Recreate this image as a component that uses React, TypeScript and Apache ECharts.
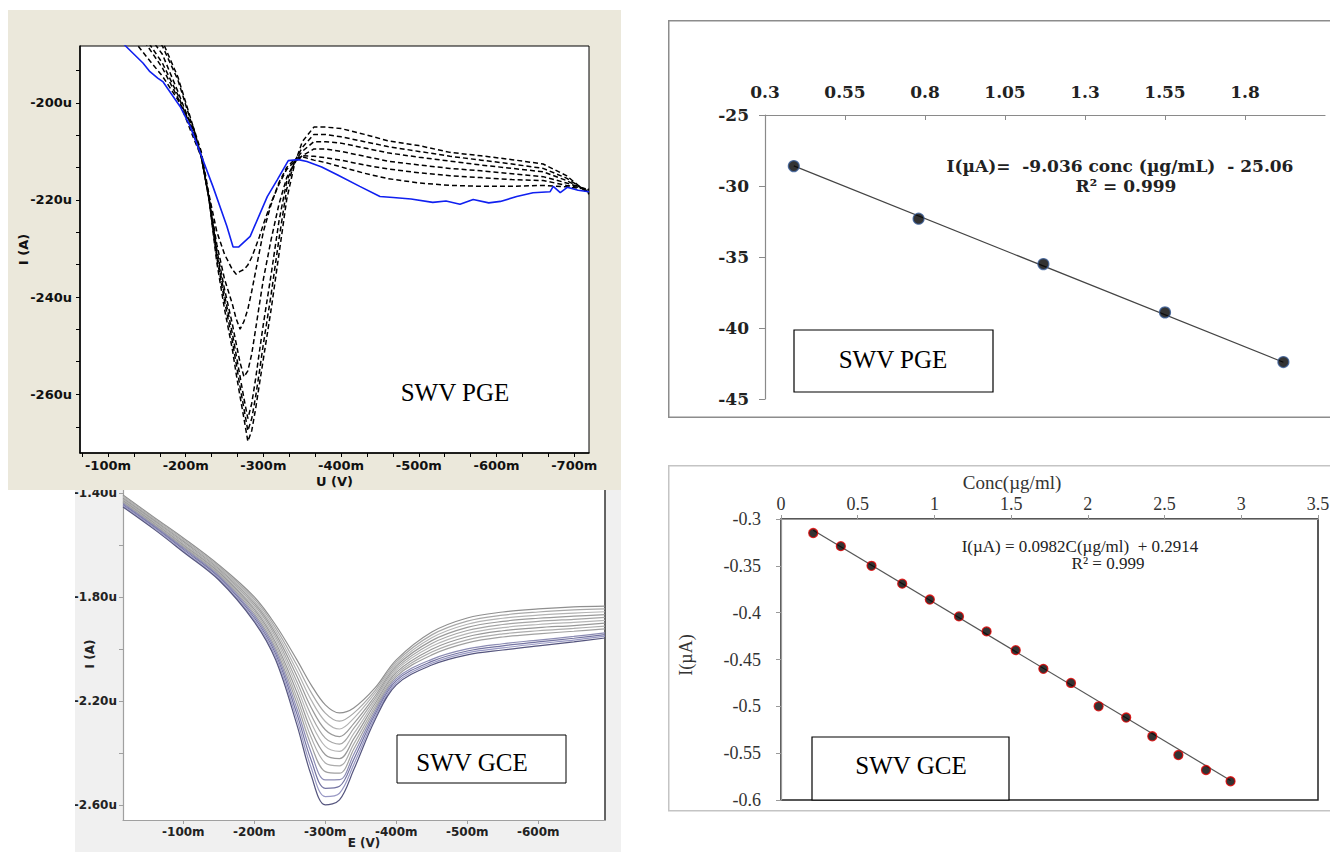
import React, { useEffect, useRef } from "react";
import * as echarts from "echarts";

// ================= Panel A : SWV at PGE (voltammograms) =================
// potentials in mV, currents in µA
const pgePotentials = [-64, -100, -130, -150, -170, -190, -210, -220, -230, -240, -250, -260, -265, -270, -275, -280, -285, -290, -295, -300, -310, -320, -330, -340, -350, -365, -380, -400, -430, -460, -500, -540, -580, -620, -660, -690, -719];
const pgeCurve1 = [-174.8, -180.9, -186.5, -190.6, -194.5, -199.4, -205.1, -210.0, -218.9, -226.5, -231.2, -234.3, -235.3, -234.7, -234.3, -233.4, -231.8, -229.7, -227.5, -225.0, -220.5, -216.8, -213.7, -212.1, -211.1, -211.8, -212.3, -213.2, -214.5, -215.6, -216.5, -217.0, -217.2, -217.2, -217.0, -217.3, -217.8];
const pgeCurve2 = [-172.7, -178.9, -185.0, -188.1, -192.8, -199.0, -207.2, -211.1, -219.3, -229.1, -236.3, -241.4, -244.5, -246.6, -245.0, -242.5, -238.8, -234.7, -230.6, -226.5, -220.9, -216.4, -213.3, -211.7, -210.9, -211.0, -211.3, -211.8, -212.8, -213.6, -214.4, -215.0, -215.4, -215.8, -216.0, -217.0, -217.8];
const pgeCurve3 = [-169.6, -176.8, -183.0, -187.1, -191.8, -198.4, -206.4, -211.1, -219.5, -230.2, -238.4, -245.5, -249.6, -253.5, -256.4, -255.2, -251.7, -246.6, -241.4, -236.3, -228.1, -220.9, -215.4, -212.3, -210.9, -209.5, -209.5, -210.0, -211.0, -212.0, -212.8, -213.5, -214.0, -214.6, -215.2, -216.5, -218.0];
const pgeCurve4 = [-166.6, -173.7, -180.5, -185.6, -190.0, -197.7, -205.9, -211.1, -219.7, -231.0, -239.6, -247.4, -251.9, -256.4, -260.9, -265.0, -261.9, -256.8, -251.1, -245.5, -235.3, -224.4, -216.2, -212.1, -210.0, -208.0, -208.0, -208.3, -209.3, -210.3, -211.2, -212.0, -212.8, -213.5, -214.2, -216.0, -218.3];
const pgeCurve5 = [-163.5, -171.1, -178.5, -184.6, -188.3, -195.3, -205.5, -210.9, -219.9, -231.8, -240.8, -249.0, -253.7, -258.5, -263.0, -267.5, -265.0, -260.5, -255.2, -249.6, -239.4, -228.1, -217.8, -212.1, -209.2, -206.5, -206.5, -207.0, -208.0, -209.0, -210.0, -211.0, -211.8, -212.6, -213.5, -215.5, -218.5];
const pgeCurve6 = [-160.4, -168.6, -176.4, -183.4, -187.3, -194.7, -205.1, -210.9, -219.9, -232.8, -242.5, -250.7, -255.8, -260.5, -265.0, -269.7, -267.5, -263.0, -257.8, -252.7, -242.5, -231.2, -219.9, -212.7, -208.0, -205.0, -205.0, -205.3, -206.5, -207.8, -208.8, -210.2, -210.9, -211.7, -212.6, -215.0, -218.8];
const pgeBlankPotentials = [-100, -124, -145, -154, -164, -171, -193, -206, -218, -235, -253, -261, -268, -283, -305, -318, -332, -345, -356, -375, -395, -424, -450, -467, -490, -518, -535, -553, -570, -590, -605, -626, -647, -669, -673, -682, -691, -705, -719];
const pgeBlankCurrents = [-184.5, -188.5, -191.8, -193.6, -194.9, -195.7, -200.8, -204.9, -210.0, -217.2, -225.4, -229.7, -229.7, -227.5, -219.3, -215.8, -211.9, -211.7, -212.1, -213.2, -214.8, -217.2, -219.3, -219.5, -219.8, -220.5, -220.2, -220.9, -219.9, -220.6, -220.3, -219.3, -218.5, -218.3, -217.2, -218.5, -217.4, -218.0, -218.3];
const pgeXLabels = [-100, -200, -300, -400, -500, -600, -700];
const pgeXTicks = [-66.7, -100, -133.3, -166.7, -200, -233.3, -266.7, -300, -333.3, -366.7, -400, -433.3, -466.7, -500, -533.3, -566.7, -600, -633.3, -666.7, -700];
const pgeYLabels = [-200, -220, -240, -260];
const pgeYTicks = [-193.3, -200, -206.7, -213.3, -220, -226.7, -233.3, -240, -246.7, -253.3, -260, -266.7];

// ================= Panel B : PGE calibration =================
const pgeConc = [0.39, 0.78, 1.17, 1.55, 1.92];
const pgePeakCurrent = [-28.6, -32.3, -35.5, -38.9, -42.4];
const pgeSlope = -9.036;
const pgeIntercept = -25.06;
const pgeConcLabels = [0.3, 0.55, 0.8, 1.05, 1.3, 1.55, 1.8];

// ================= Panel C : SWV at GCE (voltammograms) =================
const gcePotentials = [-15, -60, -100, -150, -200, -230, -260, -280, -300, -320, -340, -370, -400, -450, -500, -550, -600, -650, -694];
// one row per potential, 13 curves per row (µA)
const gceCurrentsByPotential = [
  [-1.408, -1.412, -1.416, -1.420, -1.424, -1.427, -1.430, -1.434, -1.437, -1.441, -1.445, -1.449, -1.454],
  [-1.496, -1.500, -1.504, -1.508, -1.512, -1.515, -1.518, -1.522, -1.525, -1.529, -1.533, -1.537, -1.542],
  [-1.573, -1.578, -1.583, -1.587, -1.592, -1.596, -1.600, -1.604, -1.608, -1.612, -1.617, -1.622, -1.627],
  [-1.677, -1.682, -1.687, -1.692, -1.697, -1.701, -1.705, -1.710, -1.714, -1.719, -1.724, -1.730, -1.735],
  [-1.800, -1.808, -1.816, -1.824, -1.832, -1.840, -1.848, -1.856, -1.864, -1.872, -1.880, -1.888, -1.896],
  [-1.908, -1.919, -1.930, -1.941, -1.952, -1.963, -1.975, -1.986, -1.997, -2.008, -2.019, -2.030, -2.042],
  [-2.042, -2.063, -2.084, -2.105, -2.126, -2.146, -2.167, -2.188, -2.209, -2.230, -2.250, -2.271, -2.292],
  [-2.138, -2.167, -2.196, -2.225, -2.254, -2.283, -2.312, -2.340, -2.369, -2.398, -2.427, -2.456, -2.485],
  [-2.215, -2.247, -2.279, -2.311, -2.343, -2.375, -2.407, -2.439, -2.472, -2.504, -2.536, -2.568, -2.600],
  [-2.246, -2.278, -2.308, -2.337, -2.366, -2.394, -2.422, -2.450, -2.478, -2.503, -2.528, -2.555, -2.581],
  [-2.227, -2.247, -2.267, -2.287, -2.306, -2.326, -2.346, -2.366, -2.386, -2.406, -2.425, -2.445, -2.465],
  [-2.150, -2.160, -2.170, -2.181, -2.191, -2.201, -2.211, -2.222, -2.232, -2.242, -2.252, -2.263, -2.273],
  [-2.042, -2.050, -2.058, -2.066, -2.074, -2.082, -2.090, -2.098, -2.106, -2.114, -2.122, -2.130, -2.138],
  [-1.935, -1.946, -1.957, -1.968, -1.979, -1.990, -2.001, -2.012, -2.023, -2.040, -2.048, -2.055, -2.062],
  [-1.881, -1.893, -1.905, -1.917, -1.929, -1.941, -1.953, -1.965, -1.977, -2.000, -2.008, -2.015, -2.023],
  [-1.858, -1.870, -1.882, -1.894, -1.906, -1.918, -1.930, -1.942, -1.954, -1.980, -1.988, -1.996, -2.004],
  [-1.846, -1.858, -1.870, -1.882, -1.894, -1.906, -1.918, -1.930, -1.942, -1.966, -1.973, -1.980, -1.988],
  [-1.838, -1.850, -1.862, -1.874, -1.886, -1.898, -1.910, -1.921, -1.932, -1.952, -1.959, -1.966, -1.973],
  [-1.835, -1.846, -1.857, -1.868, -1.879, -1.890, -1.901, -1.912, -1.923, -1.938, -1.945, -1.951, -1.958],
];
const gceCurveColors = ["#8f8f8f", "#a8a8a8", "#b3b3b3", "#9a9a9a", "#a5a5a5", "#b6b6b6", "#989898", "#acacac", "#a0a0a0", "#8c8cb4", "#7474a2", "#9898c4", "#55557e"];
const gceXLabels = [-100, -200, -300, -400, -500, -600];
const gceYLabels = [-1.4, -1.8, -2.2, -2.6];
const gceYTicks = [-1.4, -1.6, -1.8, -2.0, -2.2, -2.4, -2.6];

// ================= Panel D : GCE calibration =================
const gceConc = [0.21, 0.39, 0.59, 0.79, 0.97, 1.16, 1.34, 1.53, 1.71, 1.89, 2.07, 2.25, 2.42, 2.59, 2.77, 2.93];
const gcePeakCurrent = [-0.315, -0.329, -0.35, -0.369, -0.386, -0.404, -0.42, -0.44, -0.46, -0.475, -0.5, -0.512, -0.532, -0.552, -0.568, -0.58];
const gceSlope = -0.0982;
const gceIntercept = -0.2914;

// ---------------- helpers ----------------
const pairs = (xs: number[], ys: number[]) => xs.map((x, i) => [x, ys[i]]);
const fitLine = (xs: number[], slope: number, intercept: number) => {
  const lo = Math.min(...xs);
  const hi = Math.max(...xs);
  return [[lo, slope * lo + intercept], [hi, slope * hi + intercept]];
};
const gceCurves = gceCurrentsByPotential[0].map((_, k) => gceCurrentsByPotential.map((row) => row[k]));

const sansBold = { fontFamily: "DejaVu Sans", fontWeight: "bold" as const };

// ---------------- options ----------------
const optionA: any = {
  animation: false,
  backgroundColor: "#EBE8DB",
  grid: { left: 72, top: 36, right: 32, bottom: 37, outerBoundsMode: "none", containLabel: false, show: true, backgroundColor: "#ffffff", borderColor: "#000", borderWidth: 1 },
  xAxis: {
    type: "value", min: -719, max: -64, inverse: true,
    name: "U (V)", nameLocation: "middle", nameGap: 22, nameMoveOverlap: false,
    nameTextStyle: { ...sansBold, fontSize: 13, color: "#111" },
    axisLine: { lineStyle: { color: "#000", width: 1.5 } },
    axisTick: { customValues: pgeXTicks, length: 4, lineStyle: { color: "#000" } },
    axisLabel: { customValues: pgeXLabels, formatter: (v: number) => `${v}m`, ...sansBold, fontSize: 13, color: "#111", margin: 6 },
    splitLine: { show: false },
  },
  yAxis: {
    type: "value", min: -272.1, max: -188.3,
    name: "I (A)", nameLocation: "middle", nameGap: 50, nameRotate: 90, nameMoveOverlap: false,
    nameTextStyle: { ...sansBold, fontSize: 13, color: "#111" },
    axisLine: { lineStyle: { color: "#000", width: 1.5 } },
    axisTick: { customValues: pgeYTicks, length: 4, lineStyle: { color: "#000" } },
    axisLabel: { customValues: pgeYLabels, formatter: (v: number) => `${v}u`, ...sansBold, fontSize: 13, color: "#111", margin: 8 },
    splitLine: { show: false },
  },
  series: [
    ...[pgeCurve1, pgeCurve2, pgeCurve3, pgeCurve4, pgeCurve5, pgeCurve6].map((c) => ({
      type: "line", data: pairs(pgePotentials, c), symbol: "none", clip: true,
      lineStyle: { color: "#000", width: 1.5, type: [5, 3] },
    })),
    {
      type: "line", data: pairs(pgeBlankPotentials, pgeBlankCurrents), symbol: "none", clip: true,
      lineStyle: { color: "#1020f0", width: 1.6 },
    },
  ],
  graphic: [
    { type: "text", x: 447, y: 382, style: { text: "SWV PGE", fontFamily: "Liberation Serif", fontSize: 25, fill: "#000", align: "center", verticalAlign: "middle" } },
  ],
};

const optionB: any = {
  animation: false,
  backgroundColor: "#ffffff",
  grid: { left: 97, top: 95, right: 5, bottom: 19, outerBoundsMode: "none", containLabel: false },
  xAxis: {
    type: "value", position: "top", min: 0.3, max: 2.05,
    axisLine: { lineStyle: { color: "#8a8a8a", width: 1.2 } },
    axisTick: { customValues: pgeConcLabels, inside: true, length: 5, lineStyle: { color: "#8a8a8a" } },
    axisLabel: { customValues: pgeConcLabels, fontFamily: "DejaVu Serif", fontWeight: "bold", fontSize: 17, color: "#222", margin: 15 },
    splitLine: { show: false },
  },
  yAxis: {
    type: "value", min: -45, max: -25, interval: 5,
    axisLine: { show: true, lineStyle: { color: "#8a8a8a", width: 1.2 } },
    axisTick: { show: true, length: 6, lineStyle: { color: "#8a8a8a" } },
    axisLabel: { fontFamily: "DejaVu Serif", fontWeight: "bold", fontSize: 17, color: "#222", margin: 16 },
    splitLine: { show: false },
  },
  series: [
    { type: "line", data: fitLine(pgeConc, pgeSlope, pgeIntercept), symbol: "none", lineStyle: { color: "#444", width: 1.2 }, z: 2 },
    { type: "scatter", data: pairs(pgeConc, pgePeakCurrent), symbolSize: 11, itemStyle: { color: "#000", borderColor: "#3b5f9a", borderWidth: 1.2 }, z: 3 },
  ],
  graphic: [
    { type: "rect", shape: { x: 0.75, y: 0.75, width: 700, height: 396.5 }, style: { fill: "none", stroke: "#8c8c8c", lineWidth: 1.5 } },
    { type: "text", x: 452, y: 146, style: { text: "I(µA)=  -9.036 conc (µg/mL)  - 25.06", fontFamily: "DejaVu Serif", fontWeight: "bold", fontSize: 17, fill: "#222", align: "center", verticalAlign: "middle" } },
    { type: "text", x: 458, y: 166, style: { text: "R² = 0.999", fontFamily: "DejaVu Serif", fontWeight: "bold", fontSize: 17, fill: "#222", align: "center", verticalAlign: "middle" } },
    { type: "rect", shape: { x: 126, y: 310, width: 199, height: 62 }, style: { fill: "#fff", stroke: "#000", lineWidth: 1.2 } },
    { type: "text", x: 225, y: 339, style: { text: "SWV PGE", fontFamily: "Liberation Serif", fontSize: 25, fill: "#000", align: "center", verticalAlign: "middle" } },
  ],
};

const optionC: any = {
  animation: false,
  backgroundColor: "#F0F0F0",
  grid: { left: 48, top: 18, right: 16, bottom: 32, outerBoundsMode: "none", containLabel: false, show: true, backgroundColor: "#ffffff", borderWidth: 0 },
  xAxis: {
    type: "value", min: -694, max: -15, inverse: true,
    name: "E (V)", nameLocation: "middle", nameGap: 17, nameMoveOverlap: false,
    nameTextStyle: { ...sansBold, fontSize: 12, color: "#222" },
    axisLine: { lineStyle: { color: "#a0a0a0", width: 1.2 } },
    axisTick: { customValues: gceXLabels, length: 4, lineStyle: { color: "#a0a0a0" } },
    axisLabel: { customValues: gceXLabels, formatter: (v: number) => `${v}m`, ...sansBold, fontSize: 12, color: "#222", margin: 6 },
    splitLine: { show: false },
  },
  yAxis: [
    {
      type: "value", min: -2.658, max: -1.381,
      name: "I (A)", nameLocation: "middle", nameGap: 27, nameRotate: 90, nameMoveOverlap: false,
      nameTextStyle: { ...sansBold, fontSize: 12, color: "#222" },
      axisLine: { show: true, lineStyle: { color: "#a0a0a0", width: 1.2 } },
      axisTick: { show: true, customValues: gceYTicks, length: 4, lineStyle: { color: "#a0a0a0" } },
      axisLabel: { customValues: gceYLabels, formatter: (v: number) => `${v.toFixed(2)}u`, ...sansBold, fontSize: 12, color: "#222", margin: 6 },
      splitLine: { show: false },
    },
    {
      type: "value", position: "right", min: -2.658, max: -1.381,
      axisLine: { show: true, lineStyle: { color: "#333", width: 1.5 } },
      axisTick: { show: false }, axisLabel: { show: false }, splitLine: { show: false },
    },
  ],
  series: gceCurves.map((c, k) => ({
    type: "line", data: pairs(gcePotentials, c), symbol: "none", smooth: 0.35, clip: true,
    lineStyle: { color: gceCurveColors[k], width: 1.2 },
  })),
  graphic: [
    { type: "rect", shape: { x: 322, y: 265, width: 169, height: 48 }, style: { fill: "#fff", stroke: "#000", lineWidth: 1 } },
    { type: "text", x: 397, y: 292, style: { text: "SWV GCE", fontFamily: "Liberation Serif", fontSize: 25, fill: "#000", align: "center", verticalAlign: "middle" } },
  ],
};

const optionD: any = {
  animation: false,
  backgroundColor: "#ffffff",
  grid: { left: 113, top: 54, right: 12, bottom: 12, outerBoundsMode: "none", containLabel: false, show: true, borderColor: "#222", borderWidth: 1.5 },
  xAxis: {
    type: "value", position: "top", min: 0, max: 3.5, interval: 0.5,
    axisLine: { lineStyle: { color: "#9a9a9a", width: 1.2 } },
    axisTick: { length: 4, lineStyle: { color: "#9a9a9a" } },
    axisLabel: { fontFamily: "Liberation Serif", fontSize: 18, color: "#333", margin: 6 },
    splitLine: { show: false },
  },
  yAxis: {
    type: "value", min: -0.6, max: -0.3, interval: 0.05,
    axisLine: { show: true, lineStyle: { color: "#9a9a9a", width: 1.2 } },
    axisTick: { show: true, length: 5, lineStyle: { color: "#9a9a9a" } },
    axisLabel: { fontFamily: "Liberation Serif", fontSize: 18, color: "#333", margin: 20, formatter: (v: number) => v.toFixed(2).replace(/0$/, "") },
    splitLine: { show: false },
  },
  series: [
    { type: "line", data: fitLine(gceConc, gceSlope, gceIntercept), symbol: "none", lineStyle: { color: "#555", width: 1.2 }, z: 2 },
    { type: "scatter", data: pairs(gceConc, gcePeakCurrent), symbolSize: 9, itemStyle: { color: "#000", borderColor: "#e00000", borderWidth: 1.3 }, z: 3 },
  ],
  graphic: [
    { type: "rect", shape: { x: 0.75, y: 0.75, width: 700, height: 345 }, style: { fill: "none", stroke: "#c4c4c4", lineWidth: 1.5 } },
    { type: "text", x: 344, y: 17, style: { text: "Conc(µg/ml)", fontFamily: "Liberation Serif", fontSize: 19, fill: "#333", align: "center", verticalAlign: "middle" } },
    { type: "text", x: 18, y: 190, rotation: Math.PI / 2, style: { text: "I(µA)", fontFamily: "Liberation Serif", fontSize: 18, fill: "#333", align: "center", verticalAlign: "middle" } },
    { type: "text", x: 412, y: 81, style: { text: "I(µA) = 0.0982C(µg/ml)  + 0.2914", fontFamily: "Liberation Serif", fontSize: 17, fill: "#222", align: "center", verticalAlign: "middle" } },
    { type: "text", x: 440, y: 98, style: { text: "R² = 0.999", fontFamily: "Liberation Serif", fontSize: 17, fill: "#222", align: "center", verticalAlign: "middle" } },
    { type: "rect", shape: { x: 144, y: 272, width: 197, height: 63 }, style: { fill: "#fff", stroke: "#000", lineWidth: 1.2 } },
    { type: "text", x: 243, y: 300, style: { text: "SWV GCE", fontFamily: "Liberation Serif", fontSize: 25, fill: "#000", align: "center", verticalAlign: "middle" } },
  ],
};

type Box = { left: number; top: number; width: number; height: number };

function EChart({ option, box }: { option: any; box: Box }) {
  const ref = useRef<HTMLDivElement>(null);
  useEffect(() => {
    const chart = echarts.init(ref.current as HTMLDivElement, undefined, { renderer: "svg" });
    chart.setOption(option);
    return () => chart.dispose();
  }, [option]);
  return <div ref={ref} style={{ position: "absolute", left: box.left, top: box.top, width: box.width, height: box.height }} />;
}

export default function App() {
  return (
    <div style={{ position: "absolute", left: 0, top: 0, width: 1330, height: 852, background: "#ffffff", overflow: "hidden" }}>
      <EChart option={optionC} box={{ left: 75, top: 470, width: 546, height: 382 }} />
      <EChart option={optionA} box={{ left: 8, top: 10, width: 613, height: 480 }} />
      <EChart option={optionB} box={{ left: 668, top: 20, width: 662, height: 398 }} />
      <EChart option={optionD} box={{ left: 668, top: 465, width: 662, height: 347 }} />
    </div>
  );
}
